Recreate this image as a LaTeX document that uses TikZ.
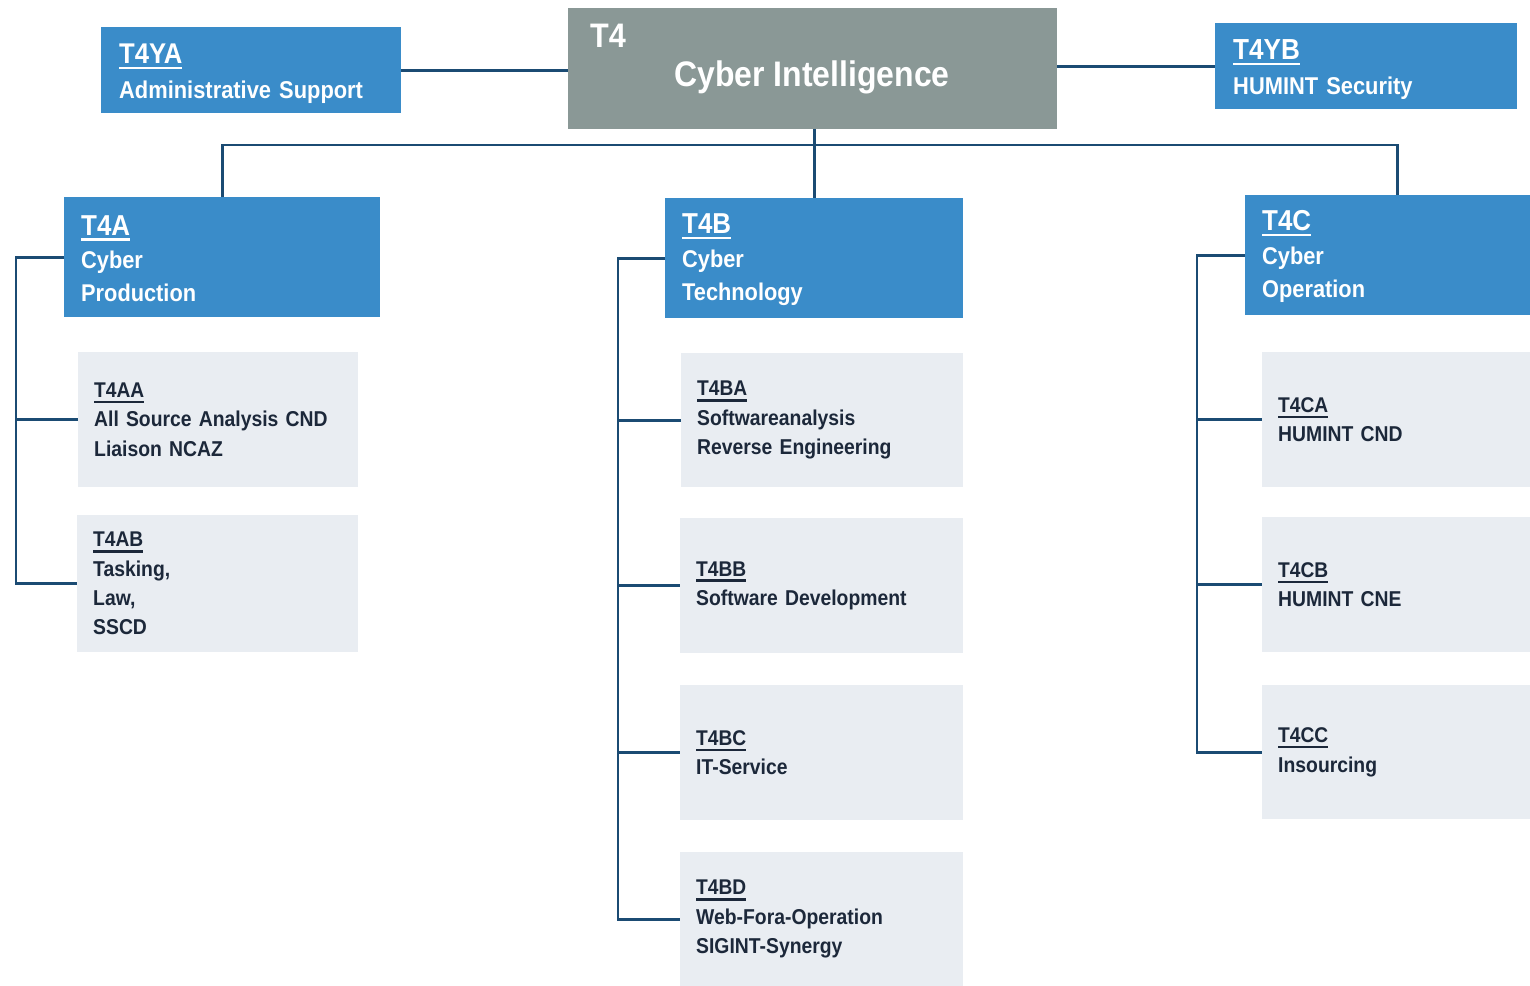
\documentclass[tikz,border=0pt]{standalone}
\usepackage{fontspec}
\setmainfont{Liberation Sans}[BoldFont={Liberation Sans Bold}]
\newfontfamily\condfont{Liberation Sans Bold}[FakeStretch=0.9]
\newcommand\ttl[1]{\setbox0\hbox{#1}\rlap{\vrule width \wd0 height -3.2pt depth 5.6pt}\box0}
\definecolor{bluebox}{RGB}{58,140,201}
\definecolor{graybox}{RGB}{138,152,150}
\definecolor{lightbox}{RGB}{233,237,242}
\definecolor{linecol}{RGB}{27,75,115}
\definecolor{darktext}{RGB}{28,40,58}
\begin{document}
\begin{tikzpicture}[x=1pt,y=-1pt,
  bluebx/.style={rectangle, fill=bluebox, draw=none, anchor=north west, inner xsep=17pt, inner ysep=0pt,
     align=left, text=white, font=\condfont\fontsize{24.2}{33.3}\selectfont},
  topbx/.style={rectangle, fill=bluebox, draw=none, anchor=north west, inner xsep=18pt, inner ysep=0pt,
     align=left, text=white, font=\condfont\fontsize{24.3}{35.5}\selectfont},
  lightbx/.style={rectangle, fill=lightbox, draw=none, anchor=north west, inner xsep=16pt, inner ysep=0pt,
     align=left, text=darktext, font=\condfont\fontsize{21.5}{29.3}\selectfont},
  conn/.style={draw=linecol, line width=2.6pt}
]
\clip (0,0) rectangle (1530,985);
\fill[white] (0,0) rectangle (1530,985);

% top row
\node[rectangle, fill=graybox, anchor=north west, minimum width=489pt, minimum height=121pt, inner sep=0pt] (t4) at (568,8) {};
\node[text=white, font=\condfont\fontsize{34}{40}\selectfont, anchor=west, inner sep=0pt] (t4lbl) at (590,36) {T4};
\node[text=white, font=\condfont\fontsize{35.5}{40}\selectfont, inner sep=0pt] (t4name) at (812,77) {Cyber Intelligence};

\node[topbx, minimum width=300pt, minimum height=86pt, text width=264pt] (t4ya) at (101,27)
  {{\fontsize{28.5}{35.5}\selectfont\rule{0pt}{27pt}\ttl{T4YA}}\\Administrative Support};
\node[topbx, minimum width=302pt, minimum height=86pt, text width=266pt] (t4yb) at (1215,23)
  {{\fontsize{29}{35.5}\selectfont\rule{0pt}{27pt}\ttl{T4YB}}\\HUMINT Security};

% second row
\node[bluebx, minimum width=316pt, minimum height=120pt, text width=282pt] (t4a) at (64,197)
  {{\fontsize{28.8}{33.3}\selectfont\rule{0pt}{23pt}\ttl{T4A}}\\Cyber\\Production};
\node[bluebx, minimum width=298pt, minimum height=120pt, text width=264pt] (t4b) at (665,198)
  {{\fontsize{28.8}{33.3}\selectfont\rule{0pt}{23pt}\ttl{T4B}}\\Cyber\\Technology};
\node[bluebx, minimum width=304pt, minimum height=120pt, text width=270pt] (t4c) at (1245,195)
  {{\fontsize{28.8}{33.3}\selectfont\rule{0pt}{23pt}\ttl{T4C}}\\Cyber\\Operation};

% T4A column
\node[lightbx, minimum width=280pt, minimum height=135pt, text width=248pt] (t4aa) at (78,352)
  {{\fontsize{21.3}{29.3}\selectfont\ttl{T4AA}}\\All Source Analysis CND\\Liaison NCAZ};
\node[lightbx, minimum width=281pt, minimum height=137pt, text width=249pt] (t4ab) at (77,515)
  {{\fontsize{21.3}{29.3}\selectfont\ttl{T4AB}}\\Tasking,\\Law,\\SSCD};

% T4B column
\node[lightbx, minimum width=282pt, minimum height=134pt, text width=250pt] (t4ba) at (681,353)
  {{\fontsize{21.3}{29.3}\selectfont\ttl{T4BA}}\\Softwareanalysis\\Reverse Engineering};
\node[lightbx, minimum width=283pt, minimum height=135pt, text width=251pt] (t4bb) at (680,518)
  {{\fontsize{21.3}{29.3}\selectfont\ttl{T4BB}}\\Software Development};
\node[lightbx, minimum width=283pt, minimum height=135pt, text width=251pt] (t4bc) at (680,685)
  {{\fontsize{21.3}{29.3}\selectfont\ttl{T4BC}}\\IT-Service};
\node[lightbx, minimum width=283pt, minimum height=134pt, text width=251pt] (t4bd) at (680,852)
  {{\fontsize{21.3}{29.3}\selectfont\ttl{T4BD}}\\Web-Fora-Operation\\SIGINT-Synergy};

% T4C column
\node[lightbx, minimum width=290pt, minimum height=135pt, text width=258pt] (t4ca) at (1262,352)
  {{\fontsize{21.3}{29.3}\selectfont\ttl{T4CA}}\\HUMINT CND};
\node[lightbx, minimum width=290pt, minimum height=135pt, text width=258pt] (t4cb) at (1262,517)
  {{\fontsize{21.3}{29.3}\selectfont\ttl{T4CB}}\\HUMINT CNE};
\node[lightbx, minimum width=290pt, minimum height=134pt, text width=258pt] (t4cc) at (1262,685)
  {{\fontsize{21.3}{29.3}\selectfont\ttl{T4CC}}\\Insourcing};

% connectors: top row
\draw[conn] (t4ya.east) -- (t4ya.east -| t4.west);
\draw[conn] (t4.east |- t4yb.west) -- (t4yb.west);

% bus
\coordinate (busy) at (0,145);
\draw[conn] (t4b.north |- t4.south) -- (t4b.north);
\draw[conn] (t4a.north) -- (t4a.north |- busy) -- (t4c.north |- busy) -- (t4c.north);

% T4A column
\coordinate (ra) at (16,0);
\draw[conn] (t4a.west) -- (ra |- t4a.west) -- (ra |- t4ab.west) -- (t4ab.west);
\draw[conn] (ra |- t4aa.west) -- (t4aa.west);

% T4B column
\coordinate (rb) at (618,0);
\draw[conn] (t4b.west) -- (rb |- t4b.west) -- (rb |- t4bd.west) -- (t4bd.west);
\draw[conn] (rb |- t4ba.west) -- (t4ba.west);
\draw[conn] (rb |- t4bb.west) -- (t4bb.west);
\draw[conn] (rb |- t4bc.west) -- (t4bc.west);

% T4C column
\coordinate (rc) at (1197,0);
\draw[conn] (t4c.west) -- (rc |- t4c.west) -- (rc |- t4cc.west) -- (t4cc.west);
\draw[conn] (rc |- t4ca.west) -- (t4ca.west);
\draw[conn] (rc |- t4cb.west) -- (t4cb.west);
\end{tikzpicture}
\end{document}
